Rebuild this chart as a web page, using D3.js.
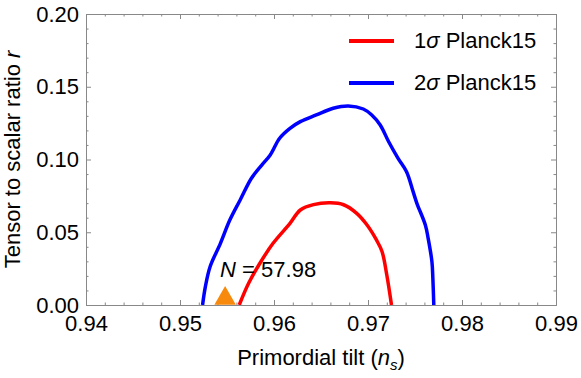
<!DOCTYPE html>
<meta charset="utf-8">
<html>
<style>
body { margin: 0; background: #fff; }
svg text { font-family: "Liberation Sans", Arial, sans-serif; fill: #000; }
.frame path, .frame line { stroke: #888; stroke-width: 1px; }
.curve { fill: none; stroke-width: 3.5px; stroke-linejoin: round; }
</style>
<body>
<script src="https://d3js.org/d3.v7.min.js"></script>
<script>

// tick labels
var xTicks = [0.94, 0.95, 0.96, 0.97, 0.98, 0.99];
var yTicks = [0.00, 0.05, 0.10, 0.15, 0.20];

// 1 sigma contour (ns, r)
var sigma1 = [
  [0.9563, 0.0], [0.9573, 0.0149], [0.9585, 0.0287], [0.9599, 0.0424],
  [0.9617, 0.0561], [0.9628, 0.0653], [0.9642, 0.0690], [0.9660, 0.0702],
  [0.9674, 0.0689], [0.9688, 0.0630], [0.9699, 0.0550], [0.9709, 0.0447],
  [0.9715, 0.0366], [0.9720, 0.0206], [0.9725, 0.0]
];

// 2 sigma contour (ns, r)
var sigma2 = [
  [0.9524, 0.0], [0.9527, 0.0126], [0.9532, 0.0263], [0.9543, 0.0424],
  [0.9553, 0.0584], [0.9564, 0.0722], [0.9576, 0.0871], [0.9587, 0.0962],
  [0.9596, 0.1031], [0.9606, 0.1146], [0.9617, 0.1214], [0.9628, 0.1260],
  [0.9645, 0.1306], [0.9663, 0.1352], [0.9679, 0.1368], [0.9695, 0.1347],
  [0.9704, 0.1306], [0.9713, 0.1237], [0.9722, 0.1122], [0.9732, 0.1008],
  [0.9741, 0.0916], [0.9748, 0.0779], [0.9752, 0.0699], [0.9761, 0.0550],
  [0.9764, 0.0458], [0.9768, 0.0298], [0.9769, 0.0183], [0.9770, 0.0]
];

// model prediction
var model = [[0.9548, 0.0045]];
var modelLabel = "57.98";

var margin = {top: 14, right: 25, bottom: 73, left: 86},
    width = 581 - margin.left - margin.right,
    height = 378 - margin.top - margin.bottom;

var x = d3.scaleLinear().domain([0.94, 0.99]).range([0, width]);
var y = d3.scaleLinear().domain([0, 0.2]).range([height, 0]);

var svg = d3.select("body").append("svg")
    .attr("width", 581)
    .attr("height", 378)
  .append("g")
    .attr("transform", "translate(" + margin.left + "," + margin.top + ")");

svg.append("clipPath").attr("id", "clip")
  .append("rect").attr("width", width).attr("height", height);

// minor ticks
var xMinor = d3.range(0.94, 0.9901, 0.002).filter(function(v) {
  return Math.abs(Math.round(v * 100) - v * 100) > 1e-6;
});
var yMinor = d3.range(0, 0.2001, 0.01).filter(function(v) {
  return Math.abs(Math.round(v * 20) - v * 20) > 1e-6;
});

function frameAxis(axis, tr) {
  var g = svg.append("g").attr("class", "frame");
  if (tr) g.attr("transform", tr);
  g.call(axis);
  return g;
}

// major ticks with labels
var gx = frameAxis(d3.axisBottom(x).tickValues(xTicks).tickSize(-5).tickSizeOuter(0)
  .tickPadding(10).tickFormat(d3.format(".2f")), "translate(0," + height + ")");
var gy = frameAxis(d3.axisLeft(y).tickValues(yTicks).tickSize(-5).tickSizeOuter(0)
  .tickPadding(7).tickFormat(d3.format(".2f")));
svg.selectAll(".frame .tick text").attr("font-size", 22).attr("font-family", null);

// top and right frame
frameAxis(d3.axisTop(x).tickValues(xTicks).tickSize(-5).tickSizeOuter(0).tickFormat(""));
frameAxis(d3.axisRight(y).tickValues(yTicks).tickSize(-5).tickSizeOuter(0).tickFormat(""),
  "translate(" + width + ",0)");

// minor ticks on all sides
frameAxis(d3.axisBottom(x).tickValues(xMinor).tickSize(-2.5).tickSizeOuter(0).tickFormat(""),
  "translate(0," + height + ")");
frameAxis(d3.axisTop(x).tickValues(xMinor).tickSize(-2.5).tickSizeOuter(0).tickFormat(""));
frameAxis(d3.axisLeft(y).tickValues(yMinor).tickSize(-2.5).tickSizeOuter(0).tickFormat(""));
frameAxis(d3.axisRight(y).tickValues(yMinor).tickSize(-2.5).tickSizeOuter(0).tickFormat(""),
  "translate(" + width + ",0)");

// contours
var line = d3.line()
    .x(function(d) { return x(d[0]); })
    .y(function(d) { return y(d[1]); })
    .curve(d3.curveCatmullRom.alpha(0.5));

svg.append("path").datum(sigma2).attr("class", "curve")
  .attr("clip-path", "url(#clip)").style("stroke", "#0000ff").attr("d", line);
svg.append("path").datum(sigma1).attr("class", "curve")
  .attr("clip-path", "url(#clip)").style("stroke", "#ff0000").attr("d", line);

// model point
svg.selectAll(".model").data(model).enter().append("path")
  .attr("class", "model")
  .attr("transform", function(d) { return "translate(" + x(d[0]) + "," + y(d[1]) + ")"; })
  .attr("d", d3.symbol().type(d3.symbolTriangle).size(200))
  .style("fill", "#f7890c");

var lab = svg.selectAll(".mlab").data(model).enter().append("text")
  .attr("class", "mlab")
  .attr("x", function(d) { return x(d[0]) - 5; })
  .attr("y", function(d) { return y(d[1]) - 21; })
  .attr("font-size", 22);
lab.append("tspan").attr("font-style", "italic").text("N");
lab.append("tspan").text(" = " + modelLabel);

// legend
var legend = [["1", "#ff0000"], ["2", "#0000ff"]];
var lg = svg.selectAll(".leg").data(legend).enter().append("g")
  .attr("transform", function(d, i) { return "translate(263," + (27 + i * 42) + ")"; });
lg.append("line").attr("x1", 0).attr("x2", 45)
  .style("stroke", function(d) { return d[1]; }).style("stroke-width", 4);
var lt = lg.append("text").attr("x", 65).attr("y", 7).attr("font-size", 22);
lt.append("tspan").text(function(d) { return d[0]; });
lt.append("tspan").attr("font-style", "italic").text("\u03c3");
lt.append("tspan").text(" Planck15");

// axis titles
var xt = svg.append("text")
  .attr("x", width / 2).attr("y", 351)
  .attr("text-anchor", "middle").attr("font-size", 22);
xt.append("tspan").text("Primordial tilt (");
xt.append("tspan").attr("font-style", "italic").text("n");
xt.append("tspan").attr("font-style", "italic").attr("font-size", 15).attr("dy", 5).text("s");
xt.append("tspan").attr("dy", -5).text(")");

var yt = svg.append("text")
  .attr("transform", "translate(-66," + (height / 2) + ") rotate(-90)")
  .attr("text-anchor", "middle").attr("font-size", 22);
yt.append("tspan").text("Tensor to scalar ratio ");
yt.append("tspan").attr("font-style", "italic").text("r");

</script>
</body>
</html>
